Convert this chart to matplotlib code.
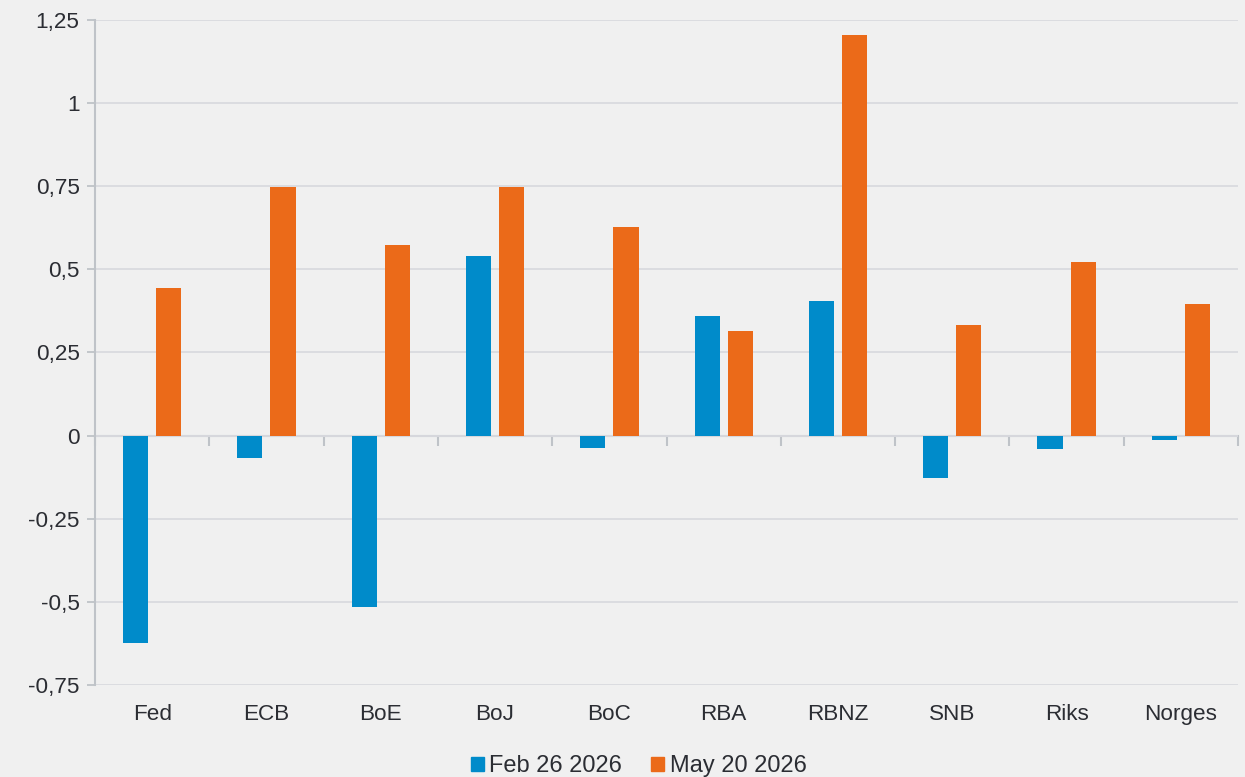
import numpy as np
import matplotlib.pyplot as plt
from matplotlib.patches import Patch

plt.rcParams['font.family'] = ['Liberation Sans', 'DejaVu Sans']

banks = ['Fed', 'ECB', 'BoE', 'BoJ', 'BoC', 'RBA', 'RBNZ', 'SNB', 'Riks', 'Norges']
feb_26 = [-0.624, -0.067, -0.515, 0.54, -0.037, 0.36, 0.405, -0.128, -0.04, -0.013]
may_20 = [0.443, 0.747, 0.573, 0.747, 0.627, 0.315, 1.205, 0.332, 0.522, 0.396]
yticks = [-0.75, -0.5, -0.25, 0, 0.25, 0.5, 0.75, 1, 1.25]
ylabels = ['-0,75', '-0,5', '-0,25', '0', '0,25', '0,5', '0,75', '1', '1,25']

blue = '#008bca'
orange = '#eb6a19'
bg = '#f0f0f0'
axcol = '#bfc3c8'
txt = '#2b2d33'

fig = plt.figure(figsize=(12.45, 7.77), dpi=100, facecolor=bg)
ax = fig.add_axes([0.0763, 0.1184, 0.9181, 0.8559], facecolor=bg)

x = np.arange(len(banks))
w = 0.22
off = 0.145
ax.bar(x - off, feb_26, w, color=blue, zorder=3)
ax.bar(x + off, may_20, w, color=orange, zorder=3)

ax.set_xlim(-0.5, len(banks) - 0.5)
ax.set_ylim(-0.75, 1.25)
ax.set_yticks(yticks)
ax.set_yticklabels(ylabels)
ax.grid(axis='y', color='#d9dadf', linewidth=1.3, zorder=0)

for s in ['top', 'right', 'bottom']:
    ax.spines[s].set_visible(False)
ax.spines['left'].set_color(axcol)
ax.spines['left'].set_linewidth(1.5)

ax.tick_params(axis='y', colors=axcol, length=6, width=1.3, labelsize=16.2, labelcolor=txt, pad=5)
ax.set_xticks(x)
ax.set_xticklabels(banks)
ax.tick_params(axis='x', length=0, labelsize=16.2, labelcolor=txt, pad=14)

# zero line with category boundary ticks (0 sits at 0.375 of the y range)
zero = ax.secondary_xaxis(0.375)
zero.set_xticks(np.arange(len(banks) + 1) - 0.5)
zero.set_xticklabels([])
zero.spines['bottom'].set_color(axcol)
zero.spines['bottom'].set_linewidth(1.5)
zero.tick_params(axis='x', colors=axcol, length=7, width=1.5, direction='out')

handles = [Patch(color=blue, label='Feb 26 2026'), Patch(color=orange, label='May 20 2026')]
leg = fig.legend(handles=handles, loc='center', bbox_to_anchor=(0.513, 0.014), ncol=2,
                 frameon=False, fontsize=17, handlelength=0.55, handleheight=0.55,
                 handletextpad=0.22, columnspacing=1.25)
for t in leg.get_texts():
    t.set_color(txt)

fig.savefig('out.png', dpi=100, facecolor=bg)
